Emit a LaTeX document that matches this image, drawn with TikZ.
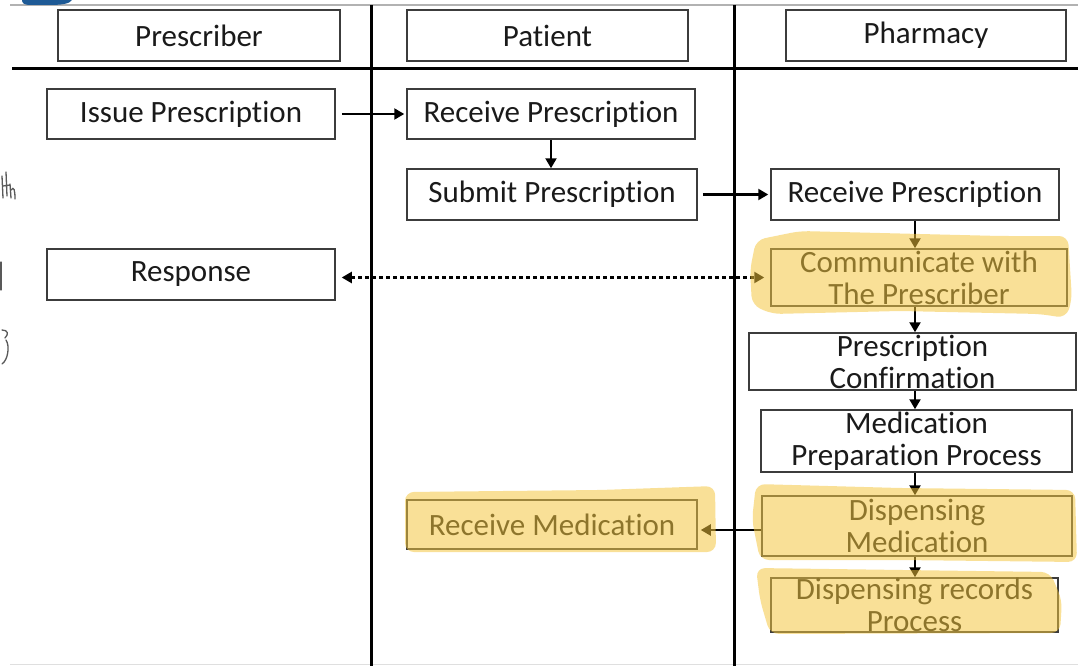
\documentclass[tikz,border=0pt]{standalone}
\usepackage{fontspec}
\setmainfont{Carlito}[RawFeature=-liga, RawFeature=-dlig, RawFeature=-clig, RawFeature=-calt]
\usetikzlibrary{arrows.meta}
\definecolor{boxc}{HTML}{3C3C3C}
\definecolor{txt}{HTML}{1A1A1A}
\definecolor{hl}{RGB}{245,198,60}
\definecolor{logo}{HTML}{1E5A96}
\tikzset{
  box/.style={draw=boxc, line width=1.5pt, fill=white, inner sep=0pt, align=center,
    text=txt, font=\fontsize{31}{32}\selectfont},
  lane/.style={line width=3pt, black},
  flow/.style={line width=2.2pt, black, -{Triangle[length=10pt,width=11pt]}},
  msg/.style={line width=2.2pt, black, dash pattern=on 4pt off 3pt,
    {Triangle[length=10pt,width=11pt]}-{Triangle[length=10pt,width=11pt]}},
  marker/.style={fill=hl, fill opacity=0.53, draw=none, rounded corners=9pt},
  scribble/.style={line width=1.3pt, gray!70!black, line cap=round},
}
\begin{document}
\begin{tikzpicture}[x=1pt,y=-1pt]
\useasboundingbox (0,0) rectangle (1078,666);
\fill[white] (0,0) rectangle (1078,666);

% frame lines and lane separators
\draw[line width=1.5pt, gray!60] (10,5) -- (1078,5);
\draw[line width=1pt, gray!25] (10,664) -- (1078,664);
\draw[lane] (12,69) -- (1078,69);
\draw[lane] (371,5) -- (371,666);
\draw[lane] (734,5) -- (734,666);

% corner tab and margin pen marks
\fill[logo] (22,0) -- (72,0) .. controls (70,4) and (60,5) .. (50,5) -- (30,5) .. controls (24,5) and (22,3) .. (22,0) -- cycle;
\draw[scribble] (2,176) -- (3,198);
\draw[scribble] (6,172) -- (7,196) (3,186) -- (10,185) (10,184) -- (11,198) (11,190) .. controls (14,186) and (15,190) .. (15,199);
\draw[scribble] (1,262) -- (1,290);
\draw[scribble] (2,330) .. controls (8,330) and (9,334) .. (5,338) (6,340) .. controls (10,346) and (8,360) .. (2,364);

% lane headers
\node[box, minimum width=282pt, minimum height=51pt] (hPre) at (199,35.5) {Prescriber};
\node[box, minimum width=281pt, minimum height=51pt] (hPat) at (547.5,35.5) {Patient};
\node[box, minimum width=280pt, minimum height=51pt] (hPha) at (926,35.5) {Pharmacy};

% process steps
\node[box, minimum width=288pt, minimum height=50pt] (issue) at (191,114) {Issue Prescription};
\node[box, minimum width=288pt, minimum height=50pt] (recvP) at (551,114) {Receive Prescription};
\node[box, minimum width=290pt, minimum height=51pt] (submit) at (552,194.5) {Submit Prescription};
\node[box, minimum width=288pt, minimum height=51pt] (recvF) at (915,194.5) {Receive Prescription};
\node[box, minimum width=288pt, minimum height=51pt] (resp) at (191,274.5) {Response};
\node[box, minimum width=296pt, minimum height=57pt] (comm) at (919,277.5) {Communicate with\\The Prescriber};
\node[box, minimum width=327pt, minimum height=57pt] (conf) at (912.5,361.5) {Prescription\\Confirmation};
\node[box, minimum width=311pt, minimum height=62pt] (prep) at (916.5,441) {Medication\\Preparation Process};
\node[box, minimum width=290pt, minimum height=49pt] (recvM) at (552,524.5) {Receive Medication};
\node[box, minimum width=310pt, minimum height=60pt] (disp) at (917,526) {Dispensing\\Medication};
\node[box, minimum width=287pt, minimum height=54pt] (rec) at (914.5,605) {Dispensing records\\Process};

% connectors
\draw[flow, shorten <=6pt, shorten >=2pt] (issue.east) -- (recvP.west);
\draw[flow] (recvP.south) -- (recvP.south |- submit.north);
\draw[flow, shorten <=5pt, shorten >=2pt] (submit.east) -- (submit.east -| recvF.west);
\draw[flow] (recvF.south) -- (recvF.south |- comm.north);
\draw[msg, shorten <=6pt, shorten >=6pt] (resp.east |- comm.west) -- (comm.west);
\draw[flow] (recvF.south |- comm.south) -- (recvF.south |- conf.north);
\draw[flow] (recvF.south |- conf.south) -- (recvF.south |- prep.north);
\draw[flow] (recvF.south |- prep.south) -- (recvF.south |- disp.north);
\draw[flow, shorten >=3pt] ([yshift=-4pt]disp.west) -- ([yshift=-4pt]disp.west -| recvM.east);
\draw[flow] (recvF.south |- disp.south) -- (recvF.south |- rec.north);

% highlighter strokes
\fill[marker] (756,240) -- (800,231) -- (1000,236) -- (1068,236) -- (1072,300) -- (1066,318) -- (1040,314) -- (900,311) -- (772,314) -- (752,305) -- (750,270) -- cycle;
\fill[marker] (405,492) -- (600,490) -- (715,486) -- (716,552) -- (405,552) -- cycle;
\fill[marker] (756,484) -- (900,488) -- (1075,490) -- (1077,562) -- (900,560) -- (760,560) -- (752,520) -- cycle;
\fill[marker] (756,568) -- (1050,572) -- (1062,600) -- (1060,633) -- (770,634) -- (760,600) -- cycle;
\end{tikzpicture}
\end{document}
